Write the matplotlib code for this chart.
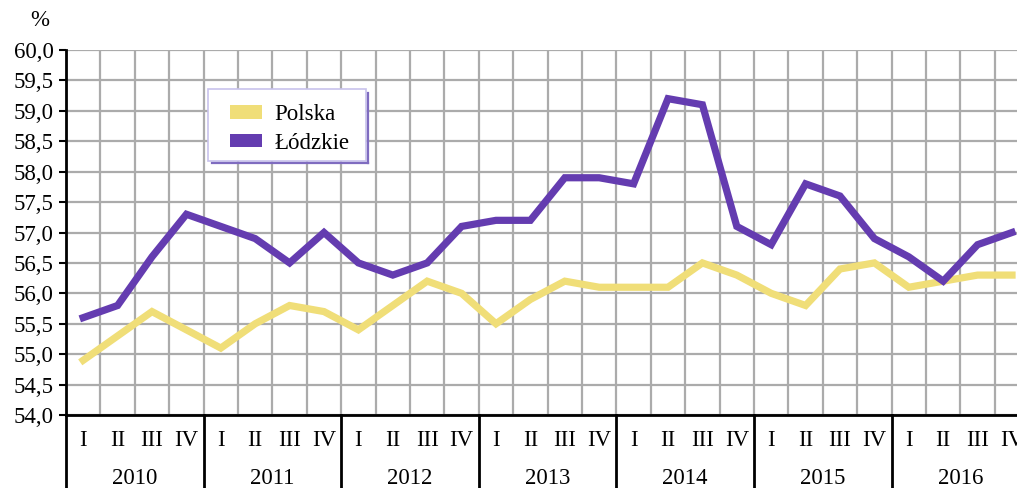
import matplotlib
matplotlib.use("Agg")
import matplotlib.pyplot as plt
import matplotlib.transforms as mtransforms
from matplotlib.patches import Patch, Rectangle
from matplotlib.lines import Line2D

years = ["2010", "2011", "2012", "2013", "2014", "2015", "2016"]
quarters = ["I", "II", "III", "IV"]
polska = [54.9, 55.3, 55.7, 55.4,
          55.1, 55.5, 55.8, 55.7,
          55.4, 55.8, 56.2, 56.0,
          55.5, 55.9, 56.2, 56.1,
          56.1, 56.1, 56.5, 56.3,
          56.0, 55.8, 56.4, 56.5,
          56.1, 56.2, 56.3, 56.3]
lodzkie = [55.6, 55.8, 56.6, 57.3,
           57.1, 56.9, 56.5, 57.0,
           56.5, 56.3, 56.5, 57.1,
           57.2, 57.2, 57.9, 57.9,
           57.8, 59.2, 59.1, 57.1,
           56.8, 57.8, 57.6, 56.9,
           56.6, 56.2, 56.8, 57.0]
yticks = [54.0 + 0.5 * i for i in range(13)]

plt.rcParams['font.family'] = ['Liberation Serif', 'DejaVu Serif']

W, H = 1017, 488
fig = plt.figure(figsize=(W / 100, H / 100), dpi=100)
left, right, top, bottom = 66, 1017, 50, 415
ax = fig.add_axes([left / W, (H - bottom) / H, (right - left) / W, (bottom - top) / H])

n = len(polska)
x = list(range(n))
qw = 34.4
xmax = (right - left) / qw - 0.5
ax.set_xlim(-0.5, xmax)
ax.set_ylim(54, 60)

FS = 16.5
YELLOW = '#F0DE78'
PURPLE = '#643CB0'

# grid
for i in range(n + 1):
    ax.axvline(i - 0.5, color='#ABABAB', lw=1.6, zorder=1)
for v in yticks:
    ax.axhline(v, color='#ABABAB', lw=1.6, zorder=1)

ax.plot(x, polska, color=YELLOW, lw=5.2, solid_joinstyle='miter', zorder=3)
ax.plot(x, lodzkie, color=PURPLE, lw=5.2, solid_joinstyle='miter', zorder=4)

for s in ['top', 'right']:
    ax.spines[s].set_visible(False)
ax.spines['left'].set_linewidth(2)
ax.spines['bottom'].set_linewidth(2)
ax.spines['left'].set_zorder(5)
ax.spines['bottom'].set_zorder(5)

ax.set_yticks(yticks)
ax.set_yticklabels([f"{v:.1f}".replace('.', ',') for v in yticks], fontsize=FS)
ax.tick_params(axis='y', direction='out', length=5, width=1.5, pad=4)
ax.set_xticks([])

trans = mtransforms.blended_transform_factory(ax.transData, ax.transAxes)
ybot = -(H - bottom) / (bottom - top)
ax.plot([-0.5, -0.5], [0, ybot], transform=trans, color='black', lw=2, clip_on=False)
for k in range(1, len(years)):
    ax.plot([4 * k - 0.5] * 2, [0, ybot], transform=trans, color='black', lw=2, clip_on=False)

yq = -(440 - bottom) / (bottom - top)
yy = -(478 - bottom) / (bottom - top)
for i in range(n):
    ax.text(i, yq, quarters[i % 4], transform=trans, ha='center', va='center', fontsize=FS)
for k, yr in enumerate(years):
    ax.text(4 * k + 1.5, yy, yr, transform=trans, ha='center', va='center', fontsize=FS)

fig.text(40 / W, 1 - 20 / H, '%', ha='center', va='center', fontsize=FS)

def fx(px):
    return px / W

def fy(py):
    return 1 - py / H

fig.add_artist(Rectangle((fx(208), fy(161)), fx(366) - fx(208), fy(89) - fy(161),
                         transform=fig.transFigure, facecolor='white',
                         edgecolor='#C8C2EC', lw=1.2, zorder=10))
fig.add_artist(Line2D([fx(367.5), fx(367.5)], [fy(93), fy(162.5)],
                      transform=fig.transFigure, color='#7F6CC0', lw=1.6, zorder=11))
fig.add_artist(Line2D([fx(212), fx(367.5)], [fy(162.5), fy(162.5)],
                      transform=fig.transFigure, color='#7F6CC0', lw=1.6, zorder=11))

handles = [Patch(facecolor=YELLOW, edgecolor='none', label='Polska'),
           Patch(facecolor=PURPLE, edgecolor='none', label='Łódzkie')]
leg = fig.legend(handles=handles, loc='center left',
                 bbox_to_anchor=(fx(230), fy(129)), bbox_transform=fig.transFigure,
                 fontsize=16.5, frameon=False, handlelength=1.4, handleheight=0.55,
                 borderpad=0, labelspacing=0.32, handletextpad=0.55, borderaxespad=0)
leg.set_zorder(12)

fig.savefig('out.png', dpi=100)
